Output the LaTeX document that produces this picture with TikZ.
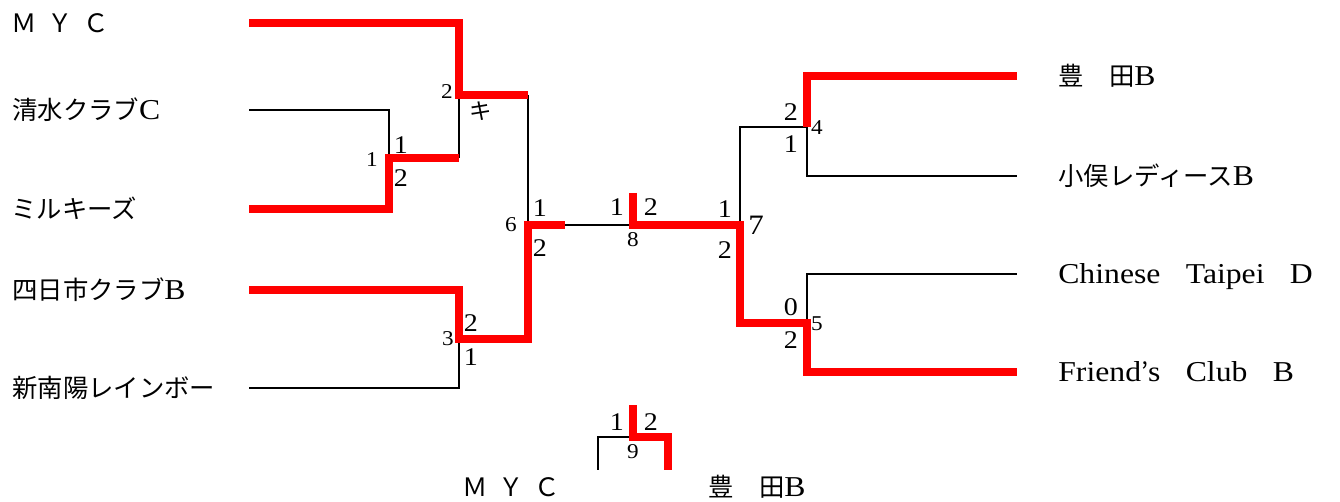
\documentclass[tikz,border=0pt]{standalone}
\usepackage{fontspec}
\setmainfont{Liberation Serif}[FakeStretch=1.1]
\newfontfamily\jp{Noto Sans CJK JP}[Scale=0.88]
\tikzset{
  win/.style={red, line width=4pt},
  lose/.style={black, line width=1.5pt},
  team/.style={anchor=base west, inner sep=0pt, font=\fontsize{16.4pt}{18pt}\selectfont},
  final/.style={anchor=base, inner sep=0pt, font=\fontsize{16.4pt}{18pt}\selectfont},
  score/.style={inner sep=0pt, font=\fontsize{14.5pt}{16pt}\selectfont},
  mno/.style={inner sep=0pt, font=\fontsize{12pt}{14pt}\selectfont},
}

\begin{document}
\begin{tikzpicture}[x=0.02cm,y=-0.02cm]
%  \draw[gray] (0,0) rectangle (1340,502);
  \path[use as bounding box] (0,0) rectangle (1340,502);
  % match points
  \coordinate (m1) at (389,158);
  \coordinate (m2) at (459, 95);
  \coordinate (m3) at (459,339);
  \coordinate (m6) at (528,225);
  \coordinate (e6) at (565,225);
  \coordinate (m8) at (633,225);
  \coordinate (f8) at (633,193);
  \coordinate (m7) at (740,225);
  \coordinate (m4) at (807,127);
  \coordinate (m5) at (807,323);
  \coordinate (m9) at (633,437);
  \coordinate (f9) at (633,405);
  \coordinate (c1) at (598,470);
  \coordinate (c2) at (668,470);
  % line ends
  \coordinate (a1) at (249, 23);
  \coordinate (a2) at (249,110);
  \coordinate (a3) at (249,209);
  \coordinate (a4) at (249,290);
  \coordinate (a5) at (249,388);
  \coordinate (b1) at (1017, 76);
  \coordinate (b2) at (1017,176);
  \coordinate (b3) at (1017,274);
  \coordinate (b4) at (1017,372);
  \draw[lose] (a2) -| (m1);
  \draw[lose] (m1 -| m2) -- (m2);
  \draw[lose] (a5) -| (m3);
  \draw[lose] (m2 -| m6) -- (m6);
  \draw[lose] (e6) -- (m8);
  \draw[lose] (m7) |- (m4);
  \draw[lose] (m4) |- (b2);
  \draw[lose] (m5) |- (b3);
  \draw[lose] (c1) |- (m9);
  \draw[win] (a1) -| (m2) -- (m2 -| m6);
  \draw[win] (a3) -| (m1) -- (m1 -| m2);
  \draw[win] (a4) -| (m3) -- (m3 -| m6) -- (m6) -- (e6);
  \draw[win] (f8) -- (m8) -- (m7) |- (m5) |- (b4);
  \draw[win] (m4) |- (b1);
  \draw[win] (c2) |- (m9) -- (f9);
  % teams
  \node[team] (t1) at (11, 33) {\jp Ｍ\hspace{6pt}Ｙ\hspace{6pt}Ｃ};
  \node[team] (t2) at (12,120) {{\jp 清水クラブ}C};
  \node[team] (t3) at (11,219) {\jp ミルキーズ};
  \node[team] (t4) at (12,300) {{\jp 四日市クラブ}B};
  \node[team] (t5) at (12,398) {\jp 新南陽レインボー};
  \node[team] (t6) at (1058, 86) {{\jp 豊　田}B};
  \node[team] (t7) at (1058,186) {{\jp 小俣レディース}B};
  \node[team] (t8) at (1058,284) {Chinese{\jp 　}Taipei{\jp 　}D};
  \node[team] (t9) at (1058,382) {Friend{\jp ’}s{\jp 　}Club{\jp 　}B};
  \node[final] (w9) at (511,497) {\jp Ｍ\hspace{6pt}Ｙ\hspace{6pt}Ｃ};
  \node[final] (r9) at (757,497) {{\jp 豊　田}B};
  % match numbers
  \node[mno] (n1) at (372,160) {1};
  \node[mno] (n2) at (447, 92) {2};
  \node[mno] (n3) at (448,339) {3};
  \node[mno] (n6) at (511,225) {6};
  \node[mno] (n8) at (633,240) {8};
  \node[mno] (n4) at (817,128) {4};
  \node[mno] (n5) at (817,324) {5};
  \node[mno] (n9) at (633,452) {9};
  \node[score,font=\fontsize{16pt}{18pt}\selectfont] (n7) at (756,225) {7};
  % scores
  \node[score] (s1a) at (401,145) {1};
  \node[score] (s1b) at (401,178) {2};
  \node[score,font=\fontsize{14.5pt}{16pt}\selectfont\jp] (s2b) at (481,111) {キ};
  \node[score] (s3a) at (471,323) {2};
  \node[score] (s3b) at (471,357) {1};
  \node[score] (s6a) at (540,208) {1};
  \node[score] (s6b) at (540,248) {2};
  \node[score] (s8a) at (617,207) {1};
  \node[score] (s8b) at (651,207) {2};
  \node[score] (s7a) at (725,209) {1};
  \node[score] (s7b) at (725,250) {2};
  \node[score] (s4a) at (791,112) {2};
  \node[score] (s4b) at (791,144) {1};
  \node[score] (s5a) at (791,307) {0};
  \node[score] (s5b) at (791,340) {2};
  \node[score] (s9a) at (617,422) {1};
  \node[score] (s9b) at (651,422) {2};
\end{tikzpicture}
\end{document}
